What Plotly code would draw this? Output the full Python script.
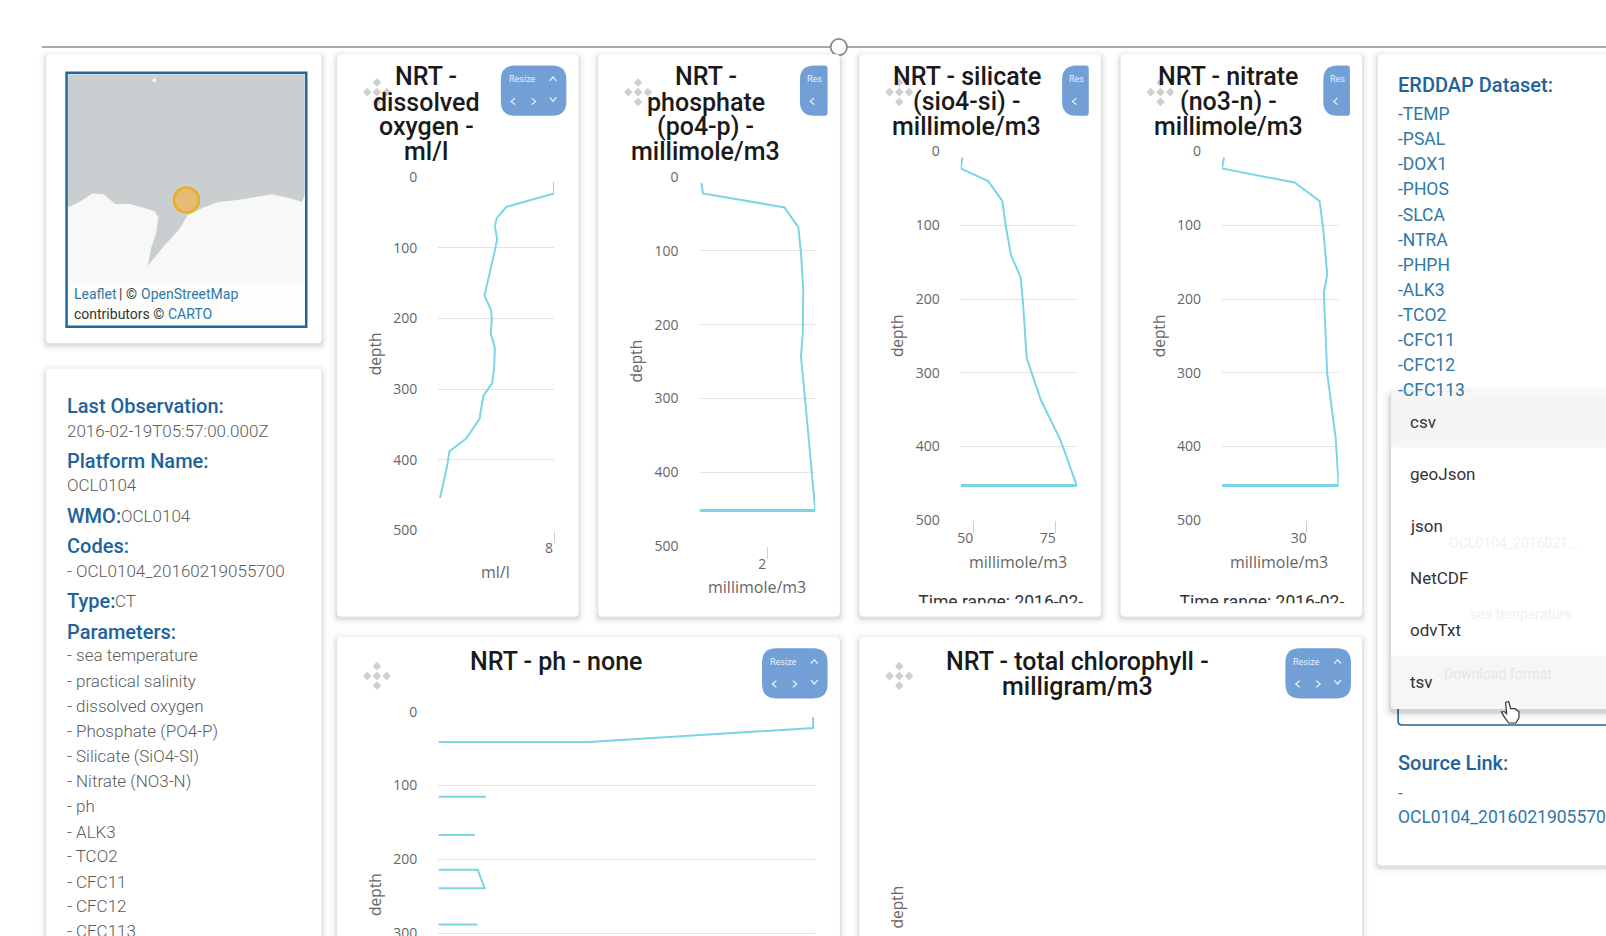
import plotly.graph_objects as go

# ---------- data ----------
do_depth = [7, 23, 42, 58, 69, 88, 104, 134, 150, 168, 188, 202, 221, 241, 269, 291, 310, 342, 370, 388, 410, 454]
do_value = [8.0, 8.0, 5.94, 5.52, 5.44, 5.54, 5.44, 5.24, 5.11, 4.99, 5.28, 5.31, 5.26, 5.44, 5.41, 5.33, 4.94, 4.78, 4.2, 3.48, 3.37, 3.07]

po4_depth = [8, 22, 41, 68, 103, 153, 210, 243, 308, 365, 402, 452]
po4_value = [0.25, 0.29, 2.46, 2.83, 2.90, 2.96, 2.95, 2.90, 3.02, 3.12, 3.19, 3.28]
po4_bottom = [0.2, 3.28]

si_depth = [8, 23, 40, 67, 102, 140, 171, 213, 280, 337, 392, 453]
si_value = [46.7, 46.2, 54.5, 58.8, 59.9, 61.4, 64.4, 65.2, 66.2, 70.5, 76.5, 81.4]
si_bottom = [46.2, 81.4]

no3_depth = [8, 23, 42, 67, 102, 166, 192, 301, 389, 453]
no3_value = [10.5, 10.0, 27.1, 33.0, 33.8, 34.8, 34.0, 34.8, 36.8, 37.5]
no3_bottom = [10.0, 37.5]

ph_depth = [7, 22, 41, 41, None, 115, 115, None, 167, 167, None, 214, 214, 239, 239, None, 288, 288]
ph_value = [8.196, 8.196, 7.78, 7.5, None, 7.5, 7.588, None, 7.5, 7.568, None, 7.5, 7.573, 7.586, 7.5, None, 7.5, 7.573]

depth_ticks = [0, 100, 200, 300, 400, 500]

coast_x = [177, 183, 215, 240, 270, 300, 340, 375, 405, 413, 408, 395, 385, 380, 400, 425, 470, 490, 530, 570, 620, 680, 710, 760, 790, 797]
coast_y = [462, 462, 445, 428, 430, 455, 455, 465, 475, 490, 530, 570, 620, 625, 600, 570, 520, 485, 465, 450, 445, 435, 430, 440, 450, 430]
station_x = [487]
station_y = [445]
island_x = [403]
island_y = [130]

info_rows = [
    (396, "Last Observation:", True), (421, "2016-02-19T05:57:00.000Z", False),
    (450, "Platform Name:", True), (474, "OCL0104", False),
    (533, "Codes:", True), (558, "- OCL0104_20160219055700", False),
    (617, "Parameters:", True), (640, "- sea temperature", False),
    (665, "- practical salinity", False), (689, "- dissolved oxygen", False),
    (714, "- Phosphate (PO4-P)", False), (738, "- Silicate (SiO4-SI)", False),
    (763, "- Nitrate (NO3-N)", False), (787, "- ph", False), (812, "- ALK3", False),
    (836, "- TCO2", False), (861, "- CFC11", False), (885, "- CFC12", False), (909, "- CFC113", False),
]
dataset_codes = ["-TEMP", "-PSAL", "-DOX1", "-PHOS", "-SLCA", "-NTRA", "-PHPH", "-ALK3", "-TCO2", "-CFC11", "-CFC12", "-CFC113"]
formats = ["csv", "geoJson", "json", "NetCDF", "odvTxt", "tsv"]

# ---------- layout helpers (coordinates on a 1568 x 914 grid) ----------
W, H = 1568.0, 914.0
BLUE = "#20639b"
LINK = "#2f78a8"
CYAN = "#7ad5e6"
GREY = "#666666"
BTN = "#729fd5"


def fx(x):
    return x / W


def fy(y):
    return 1 - y / H


shapes = []
annotations = []


def txt(x, y, text, size=16, color="#555555", weight=400, anchor="left", angle=0, family="Roboto"):
    if anchor == "left":
        x -= 2
    annotations.append(dict(x=fx(x), y=fy(y), xref="paper", yref="paper", text=text, showarrow=False,
                            xanchor=anchor, yanchor="middle", textangle=angle,
                            font=dict(family=family, size=size, color=color, weight=weight)))


def path(points, fill=None, line=None, lw=1.0, layer="below", close=True):
    d = "M " + " L ".join(f"{fx(a):.5f} {fy(b):.5f}" for a, b in points) + (" Z" if close else "")
    shapes.append(dict(type="path", path=d, xref="paper", yref="paper", layer=layer,
                       fillcolor=fill or "rgba(0,0,0,0)",
                       line=dict(color=line or "rgba(0,0,0,0)", width=lw if line else 0)))


def rrect(x0, y0, x1, y1, r=4.0, r_right=None, fill="white", line=None, lw=1.0, layer="below"):
    rr = r if r_right is None else r_right
    a, b, c, d = fx(x0), fy(y0), fx(x1), fy(y1)
    rx, ry = r / W, r / H
    sx, sy = rr / W, rr / H
    p = (f"M {a+rx:.5f} {b:.5f} L {c-sx:.5f} {b:.5f} Q {c:.5f} {b:.5f} {c:.5f} {b-sy:.5f} "
         f"L {c:.5f} {d+sy:.5f} Q {c:.5f} {d:.5f} {c-sx:.5f} {d:.5f} L {a+rx:.5f} {d:.5f} "
         f"Q {a:.5f} {d:.5f} {a:.5f} {d+ry:.5f} L {a:.5f} {b-ry:.5f} Q {a:.5f} {b:.5f} {a+rx:.5f} {b:.5f} Z")
    shapes.append(dict(type="path", path=p, xref="paper", yref="paper", layer=layer, fillcolor=fill,
                       line=dict(color=line or "rgba(0,0,0,0)", width=lw if line else 0)))


def card(x0, y0, x1, y1, layer="below"):
    for k, a in ((7, 0.012), (5, 0.018), (3, 0.03), (1.5, 0.06)):
        rrect(x0 - k, y0 - k + 2, x1 + k, y1 + k + 2, r=4 + k, fill=f"rgba(0,0,0,{a})", layer=layer)
    rrect(x0, y0, x1, y1, r=4, fill="white", layer=layer)


def chevron(cx, cy, direction, s=3.2):
    if direction == "up":
        pts = [(cx - s, cy + s * 0.6), (cx, cy - s * 0.6), (cx + s, cy + s * 0.6)]
    elif direction == "down":
        pts = [(cx - s, cy - s * 0.6), (cx, cy + s * 0.6), (cx + s, cy - s * 0.6)]
    elif direction == "left":
        pts = [(cx + s * 0.6, cy - s), (cx - s * 0.6, cy), (cx + s * 0.6, cy + s)]
    else:
        pts = [(cx - s * 0.6, cy - s), (cx + s * 0.6, cy), (cx - s * 0.6, cy + s)]
    path(pts, line="rgba(255,255,255,0.9)", lw=1.2, layer="above", close=False)


def resize_full(x0, y0):
    rrect(x0, y0, x0 + 64, y0 + 49, r=14, fill=BTN, layer="below")
    txt(x0 + 21, y0 + 13, "Resize", size=9, color="#e8f0fa", anchor="center")
    chevron(x0 + 51, y0 + 13, "up")
    chevron(x0 + 12, y0 + 35, "left")
    chevron(x0 + 32, y0 + 35, "right")
    chevron(x0 + 51, y0 + 33, "down")


def resize_cut(x0, y0, x1):
    rrect(x0, y0, x1, y0 + 49, r=14, r_right=3, fill=BTN, layer="below")
    txt(x0 + 7, y0 + 13, "Res", size=9, color="#e8f0fa")
    chevron(x0 + 12, y0 + 35, "left")


def move_icon(cx, cy):
    s = 4.2
    for dx, dy in ((0, -9.5), (0, 9.5), (-9.5, 0), (9.5, 0), (0, 0)):
        path([(cx + dx - s, cy + dy), (cx + dx, cy + dy - s), (cx + dx + s, cy + dy), (cx + dx, cy + dy + s)],
             fill="#cfcfcf")


# ---------- page furniture ----------
shapes.append(dict(type="line", xref="paper", yref="paper", x0=fx(41), x1=1, y0=fy(46), y1=fy(46), layer="below",
                   line=dict(color="#8c8c8c", width=1.5)))
shapes.append(dict(type="circle", xref="paper", yref="paper", x0=fx(811), x1=fx(827), y0=fy(38), y1=fy(54),
                   layer="below", fillcolor="white", line=dict(color="#8c8c8c", width=1.8)))

card(45, 53, 314, 335)
card(45, 360, 314, 960)
for a, b in ((329, 565), (584, 820), (839, 1075), (1094, 1330)):
    card(a, 53, b, 602)
card(329, 622, 820, 960)
card(839, 622, 1330, 960)
card(1345, 53, 1640, 845)

# map frame
MAPX0, MAPX1, MAPY0, MAPY1 = 65, 299, 71, 319
shapes.append(dict(type="rect", xref="paper", yref="paper", x0=fx(MAPX0), x1=fx(MAPX1), y0=fy(MAPY1), y1=fy(MAPY0),
                   layer="below", fillcolor="#f8f8f6", line=dict(width=0)))
shapes.append(dict(type="rect", xref="paper", yref="paper", x0=fx(66), x1=fx(298), y0=fy(318), y1=fy(275),
                   layer="below", fillcolor="#fdfdfc", line=dict(width=0)))
shapes.append(dict(type="rect", xref="paper", yref="paper", x0=fx(MAPX0), x1=fx(MAPX1), y0=fy(MAPY1), y1=fy(MAPY0),
                   layer="above", fillcolor="rgba(0,0,0,0)", line=dict(color="#20679f", width=2.5)))
txt(72, 287, "Leaflet", size=14, color=LINK)
txt(116, 287, "| ©", size=14, color="#333333")
txt(138, 287, "OpenStreetMap", size=14, color=LINK)
txt(72, 307, "contributors ©", size=14, color="#333333")
txt(164, 307, "CARTO", size=14, color=LINK)

# left info panel
for y, s, bold in info_rows:
    txt(65, y, s, size=20 if bold else 17, color=BLUE if bold else "#5c5c5c", weight=500 if bold else 300)
txt(65, 504, "WMO:", size=20, color=BLUE, weight=500)
txt(118, 504, "OCL0104", size=17, color="#5c5c5c", weight=300)
txt(65, 587, "Type:", size=20, color=BLUE, weight=500)
txt(112, 587, "CT", size=17, color="#5c5c5c", weight=300)

# right panel
txt(1365, 83, "ERDDAP Dataset:", size=20, color=BLUE, weight=500)
for i, s in enumerate(dataset_codes):
    txt(1365, 111.5 + i * 24.5, s, size=17.5, color=LINK)
txt(1365, 745, "Source Link:", size=20, color=BLUE, weight=500)
txt(1365, 774, "-", size=17, color=LINK)
txt(1365, 798, "OCL0104_2016021905570", size=17.5, color=LINK)
rrect(1365, 660, 1640, 708, r=4, fill="white", line=BLUE, lw=1.6)
for k, a in ((8, 0.02), (5, 0.03), (3, 0.05), (1.5, 0.08)):
    rrect(1358 - k, 383 - k + 3, 1640, 692 + k + 3, r=4 + k, fill=f"rgba(0,0,0,{a})")
rrect(1358, 383, 1640, 692, r=4, fill="white")
rrect(1358, 384, 1640, 437, r=2, fill="#f5f5f5")
rrect(1358, 640, 1640, 692, r=2, fill="#f6f6f6")
for i, s in enumerate(formats):
    txt(1377, 412 + i * 50.7, s, size=17, color="#333333")
txt(1415, 530, "OCL0104_2016021...", size=14, color="#f1f1f1")
txt(1435, 600, "sea temperature", size=14, color="#f0f0f0")
txt(1410, 658, "Download format", size=14, color="#e6e6e6")

# hand cursor
hand = [(1470, 686), (1473, 685), (1475, 692), (1479, 692), (1483, 695), (1483, 701), (1480, 706), (1473, 706),
        (1468, 699), (1466, 695), (1469, 695), (1471, 697)]
path(hand, fill="white", line="#333333", lw=1.2, layer="above")

# ---------- titles, buttons, labels of the six chart cards ----------
titles = [
    (416, [75, 100, 124, 148], ["NRT -", "dissolved", "oxygen -", "ml/l"]),
    (689, [75, 100, 124, 148], ["NRT -", "phosphate", "(po4-p) -", "millimole/m3"]),
    (944, [75, 99, 124], ["NRT - silicate", "(sio4-si) -", "millimole/m3"]),
    (1199, [75, 99, 124], ["NRT - nitrate", "(no3-n) -", "millimole/m3"]),
    (543, [646], ["NRT - ph - none"]),
    (1052, [646, 670], ["NRT - total chlorophyll -", "milligram/m3"]),
]
for cx, cy in ((368, 90), (623, 90), (878, 90), (1133, 90), (368, 660), (878, 660)):
    move_icon(cx, cy)
for cx, ys, lines in titles:
    for y, s in zip(ys, lines):
        txt(cx, y, s, size=25, color="#1a1a1a", weight=500, anchor="center")
resize_full(489, 64)
resize_cut(781, 64, 808)
resize_cut(1037, 64, 1063)
resize_cut(1292, 64, 1318)
resize_full(744, 633)
resize_full(1255, 633)

for x, y in ((366, 345), (621, 353), (876, 328), (1131, 328), (366, 873), (876, 886)):
    txt(x, y, "depth", size=15.5, color=GREY, anchor="center", angle=-90, family="Open Sans")
for x, y, s in ((484, 559, "ml/l"), (739, 573, "millimole/m3"), (994, 549, "millimole/m3"), (1249, 549, "millimole/m3")):
    txt(x, y, s, size=16, color=GREY, anchor="center", family="Open Sans")

# ---------- figure ----------
fig = go.Figure()
axes = {}


def profile(n, dom_x, dom_y, xrange, yrange, xticks, depth, value, bottom=None, bottom_depth=None, shift=-5):
    xn, yn = f"xaxis{n}", f"yaxis{n}"
    axes[xn] = dict(domain=[fx(dom_x[0]), fx(dom_x[1])], range=xrange, anchor=f"y{n}", showgrid=False, automargin=False,
                    zeroline=False, showline=False, tickmode="array", tickvals=xticks,
                    ticks="outside" if xticks else "", ticklen=12, tickcolor="#cfcfcf", tickwidth=1,
                    tickfont=dict(family="Open Sans", size=14, color=GREY), ticklabelshift=shift, ticklabelstandoff=-7)
    axes[yn] = dict(domain=[fy(dom_y[1]), fy(dom_y[0])], range=yrange, anchor=f"x{n}", showgrid=True, automargin=False,
                    gridcolor="#e4e4e4", gridwidth=1, zeroline=False, showline=False, tickmode="array",
                    tickvals=[t for t in depth_ticks if t <= yrange[0]], ticks="", ticklabelstandoff=20,
                    ticklabeloverflow="allow",
                    tickfont=dict(family="Open Sans", size=14, color=GREY))
    fig.add_trace(go.Scatter(x=value, y=depth, mode="lines", xaxis=f"x{n}", yaxis=f"y{n}", cliponaxis=False,
                             connectgaps=False, line=dict(color=CYAN, width=2), hoverinfo="skip"))
    if bottom:
        fig.add_trace(go.Scatter(x=bottom, y=[bottom_depth, bottom_depth], mode="lines", xaxis=f"x{n}", yaxis=f"y{n}",
                                 cliponaxis=False, line=dict(color=CYAN, width=3), hoverinfo="skip"))


profile(1, (428, 541), (173, 518), [3.0, 8.0], [500, 0], [8], do_depth, do_value)
profile(2, (683, 796), (173, 533), [0.2, 3.28], [500, 0], [2], po4_depth, po4_value, po4_bottom, po4_depth[-1])
profile(3, (938, 1052), (148, 508), [46.2, 81.6], [500, 0], [50, 75], si_depth, si_value, si_bottom, si_depth[-1], shift=-8)
profile(4, (1193, 1307), (148, 508), [10.0, 37.5], [500, 0], [30], no3_depth, no3_value, no3_bottom, no3_depth[-1], shift=-8)
profile(5, (428, 796), (695, 914), [7.5, 8.2], [303.7, 0], [], ph_depth, ph_value)

# map axes
ocean_x = [177, 797] + coast_x[::-1]
ocean_y = [114, 114] + coast_y[::-1]
axes["xaxis6"] = dict(domain=[fx(MAPX0), fx(MAPX1)], range=[173, 801], anchor="y6", visible=False, automargin=False)
axes["yaxis6"] = dict(domain=[fy(MAPY1), fy(MAPY0)], range=[778, 110], anchor="x6", visible=False, automargin=False)
fig.add_trace(go.Scatter(x=ocean_x, y=ocean_y, mode="lines", fill="toself", fillcolor="#c9ced1",
                         line=dict(width=0, color="#c9ced1"), xaxis="x6", yaxis="y6", hoverinfo="skip"))
fig.add_trace(go.Scatter(x=island_x, y=island_y, mode="markers", xaxis="x6", yaxis="y6", hoverinfo="skip",
                         marker=dict(size=4, color="#f4f4f2")))
fig.add_trace(go.Scatter(x=station_x, y=station_y, mode="markers", xaxis="x6", yaxis="y6", hoverinfo="skip",
                         marker=dict(size=25, color="rgba(231,185,112,0.95)", line=dict(color="#e9ae22", width=2.6))))

# clipped "Time range" captions
axes["xaxis7"] = dict(domain=[0, 1], range=[0, W], anchor="y7", visible=False, automargin=False)
axes["yaxis7"] = dict(domain=[fy(589), fy(560)], range=[589, 560], anchor="x7", visible=False, automargin=False)
fig.add_trace(go.Scatter(x=[977, 1232], y=[589, 589], mode="text", xaxis="x7", yaxis="y7", hoverinfo="skip",
                         text=["Time range: 2016-02-", "Time range: 2016-02-"], textposition="middle center",
                         textfont=dict(family="Roboto", size=17.5, color="#333333")))

fig.update_layout(width=1606, height=936, margin=dict(l=0, r=0, t=0, b=0), showlegend=False,
                  paper_bgcolor="white", plot_bgcolor="rgba(0,0,0,0)", shapes=shapes, annotations=annotations,
                  **axes)

fig.write_html("out.html", config={"displayModeBar": False},
               post_script="document.body.style.margin='0';document.body.style.overflow='hidden';")
